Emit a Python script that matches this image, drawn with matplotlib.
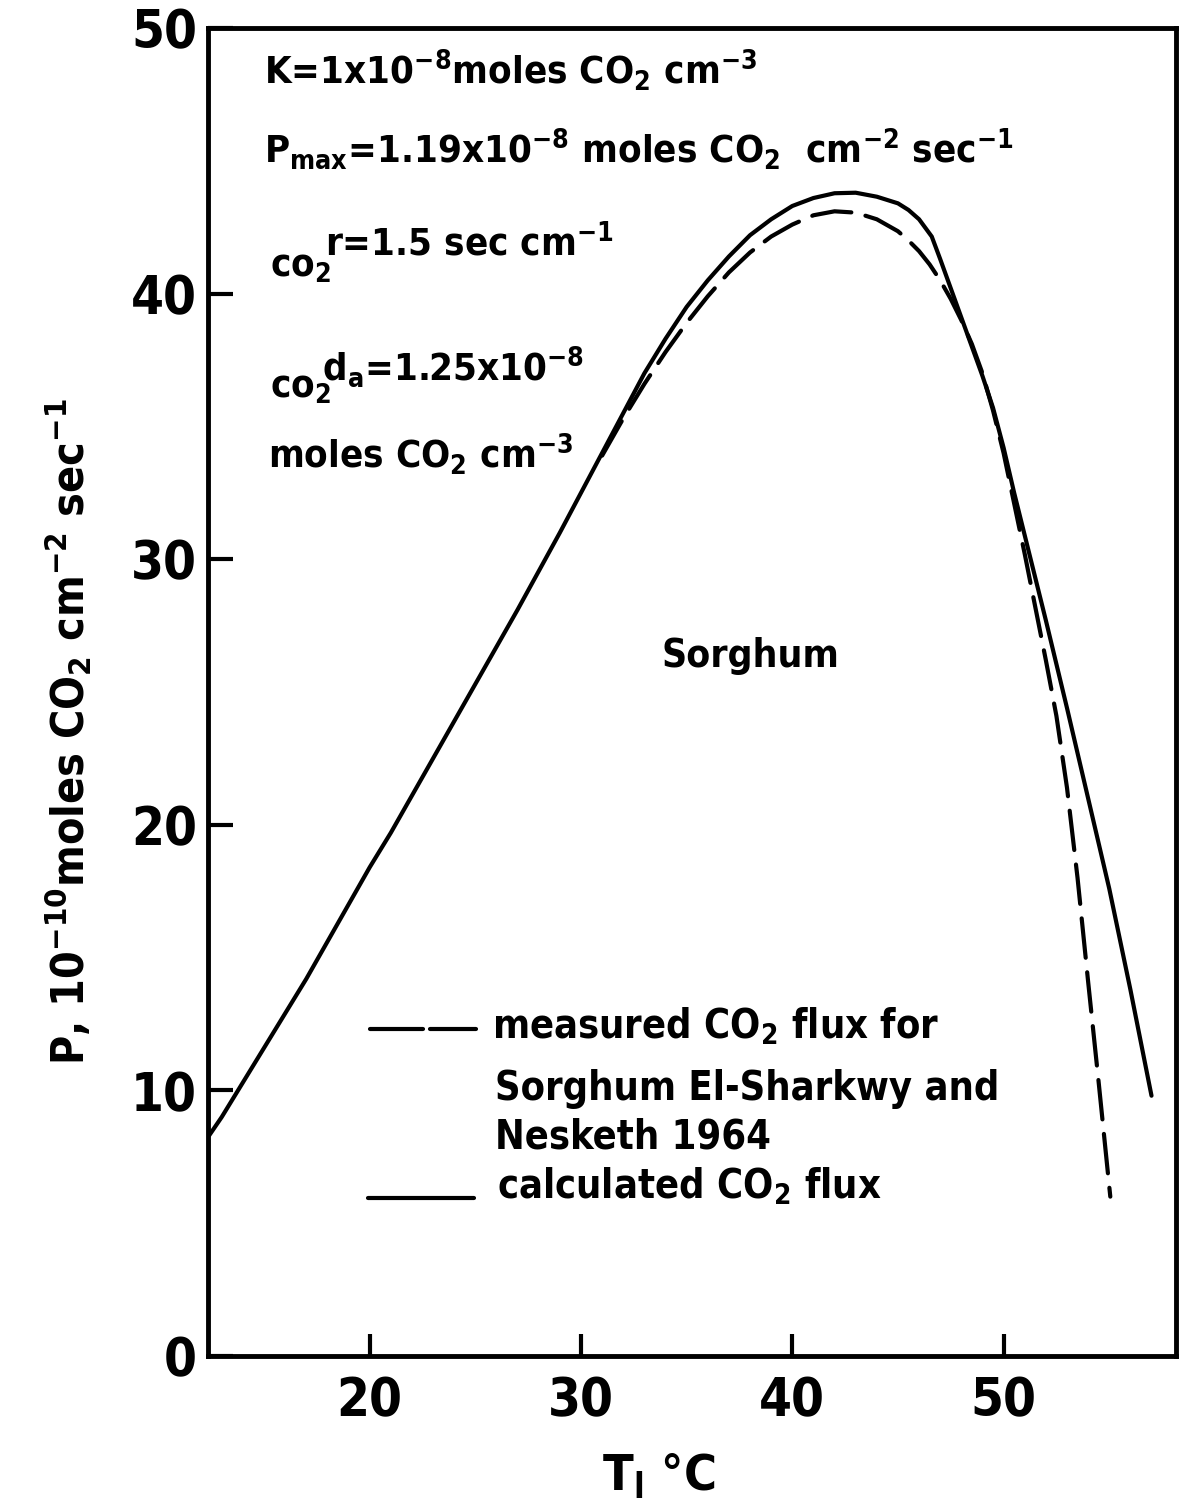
import matplotlib
matplotlib.use("Agg")
import matplotlib.pyplot as plt

plt.rcParams['font.family'] = ['DejaVu Sans']
plt.rcParams['font.stretch'] = 'condensed'
plt.rcParams['font.weight'] = 'bold'
plt.rcParams['axes.labelweight'] = 'bold'
plt.rcParams['mathtext.fontset'] = 'custom'
plt.rcParams['mathtext.rm'] = 'DejaVu Sans:bold'
plt.rcParams['mathtext.it'] = 'DejaVu Sans:bold'
plt.rcParams['mathtext.bf'] = 'DejaVu Sans:bold'
plt.rcParams['mathtext.default'] = 'rm'

# calculated CO2 flux (solid)
calc_T = [12.4, 13, 14, 15, 16, 17, 18, 19, 20, 21, 22, 23, 24, 25, 26, 27, 28, 29, 30, 31,
          32, 33, 34, 35, 36, 37, 38, 39, 40, 41, 42, 43, 44, 45, 45.5, 46, 46.6, 47, 47.5,
          48, 48.5, 49, 49.5, 50, 50.5, 51, 52, 53, 54, 55, 56, 57.0]
calc_P = [8.3, 9.0, 10.3, 11.6, 12.9, 14.2, 15.6, 17.0, 18.4, 19.7, 21.1, 22.5, 23.9, 25.3,
          26.7, 28.1, 29.55, 31.0, 32.5, 34.0, 35.5, 37.0, 38.3, 39.5, 40.5, 41.4, 42.2, 42.8,
          43.3, 43.6, 43.78, 43.8, 43.65, 43.4, 43.15, 42.8, 42.15, 41.3, 40.2, 39.1, 38.0,
          36.9, 35.7, 34.2, 32.5, 30.9, 27.7, 24.4, 21.0, 17.6, 13.8, 9.8]

# measured CO2 flux (dashed)
meas_T = [31.0, 32, 33, 34, 35, 36, 37, 38, 39, 40, 41, 42, 43, 44, 45, 45.5, 46, 46.5, 47,
          47.5, 48, 48.5, 49, 49.5, 50, 50.5, 51, 51.5, 52, 52.5, 53, 53.5, 54, 54.5, 55.05]
meas_P = [33.9, 35.3, 36.6, 37.8, 38.9, 39.9, 40.8, 41.55, 42.15, 42.6, 42.95, 43.1, 43.05,
          42.8, 42.35, 42.0, 41.6, 41.1, 40.5, 39.8, 39.0, 38.1, 37.0, 35.6, 34.0, 32.1,
          30.2, 28.2, 26.2, 24.1, 21.4, 18.0, 14.1, 10.3, 6.0]

xticks = [20, 30, 40, 50]
yticks = [0, 10, 20, 30, 40, 50]

fig = plt.figure(figsize=(11.8, 15), dpi=100)
ax = fig.add_axes([0.1763, 0.096, 0.8205, 0.8853])

lw = 3.0
ax.plot(calc_T, calc_P, color='black', lw=lw, solid_capstyle='round', solid_joinstyle='round')
ax.plot(meas_T, meas_P, color='black', lw=lw, dashes=(9.5, 3.5), dash_capstyle='round',
        dash_joinstyle='round')

ax.set_xlim(12.35, 58.17)
ax.set_ylim(0, 50)
ax.set_xticks(xticks)
ax.set_yticks(yticks)
ax.tick_params(axis='both', direction='in', width=3, labelsize=38)
ax.tick_params(axis='y', length=18, pad=8)
ax.tick_params(axis='x', length=16, pad=14)
for s in ax.spines.values():
    s.set_linewidth(3.5)

ax.set_xlabel(r'T$_\mathregular{l}$ °C', fontsize=36)
ax.xaxis.set_label_coords(0.466, -0.072)
ax.set_ylabel(r'P, 10$^{-10}$moles CO$_2$ cm$^{-2}$ sec$^{-1}$', fontsize=32)
ax.yaxis.set_label_coords(-0.118, 0.47)

tk = dict(transform=ax.transAxes, fontsize=27.5, va='baseline', ha='left')
ax.text(0.058, 0.958, r'K=1x10$^{-8}$moles CO$_2$ cm$^{-3}$', **tk)
ax.text(0.058, 0.899, r'P$_{max}$=1.19x10$^{-8}$ moles CO$_2$  cm$^{-2}$ sec$^{-1}$', **tk)
ax.text(0.064, 0.8125, r'co$_2$', **tk)
ax.text(0.1206, 0.829, r'r=1.5 sec cm$^{-1}$', **tk)
ax.text(0.064, 0.7214, r'co$_2$', **tk)
ax.text(0.1175, 0.735, r'd$_a$=1.25x10$^{-8}$', **tk)
ax.text(0.062, 0.6687, r'moles CO$_2$ cm$^{-3}$', **tk)

ax.text(0.56, 0.527, 'Sorghum', transform=ax.transAxes, fontsize=28, ha='center', va='center')

# legend
lk = dict(transform=ax.transAxes, fontsize=28.5, va='baseline', ha='left')
ax.plot([0.167, 0.222], [0.2465, 0.2465], transform=ax.transAxes, color='black', lw=lw,
        solid_capstyle='round')
ax.plot([0.229, 0.277], [0.2465, 0.2465], transform=ax.transAxes, color='black', lw=lw,
        solid_capstyle='round')
ax.plot([0.165, 0.275], [0.119, 0.119], transform=ax.transAxes, color='black', lw=lw,
        solid_capstyle='round')
ax.text(0.293, 0.2395, r'measured CO$_2$ flux for', **lk)
ax.text(0.296, 0.1928, 'Sorghum El-Sharkwy and', **lk)
ax.text(0.296, 0.1566, 'Nesketh 1964', **lk)
ax.text(0.298, 0.119, r'calculated CO$_2$ flux', **lk)

fig.savefig('out.png', dpi=100)
